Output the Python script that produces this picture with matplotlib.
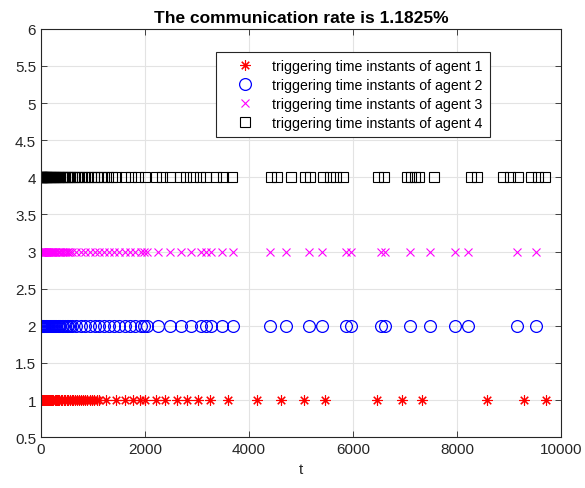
import numpy as np
import matplotlib
matplotlib.use("Agg")
import matplotlib.pyplot as plt

plt.rcParams['font.family'] = ['Liberation Sans', 'DejaVu Sans']

# triggering instants
agent1_t = [0, 4, 9, 15, 22, 30, 38, 47, 57, 68, 80, 92, 105, 119, 134, 150, 166, 183,
            201, 220, 240, 261, 283, 306, 330, 355, 381, 408, 436, 465, 495, 526, 558,
            591, 625, 660, 696, 733, 771, 810, 850, 892, 935, 980, 1026, 1075, 1125,
            1257, 1450, 1610, 1770, 1898, 1994, 2206, 2379, 2616, 2808, 3019, 3244,
            3596, 4161, 4623, 5052, 5456, 6462, 6942, 7334, 8584, 9283, 9719]
agent2_t = [0, 3, 7, 12, 18, 25, 33, 42, 52, 63, 75, 88, 102, 117, 133, 150, 168, 187,
            207, 228, 250, 273, 297, 322, 348, 375, 403, 432, 462, 493, 525, 560, 600,
            680, 765, 850, 940, 1030, 1125, 1220, 1315, 1410, 1510, 1610, 1710, 1810,
            1915, 1980, 2040, 2250, 2475, 2700, 2892, 3085, 3181, 3277, 3488, 3692,
            4412, 4719, 5154, 5411, 5873, 5969, 6546, 6610, 7090, 7488, 7969, 8212,
            9154, 9527]
agent3_t = list(agent2_t)
agent4_t = [0, 3, 7, 12, 18, 25, 33, 42, 52, 63, 75, 88, 102, 117, 133, 150, 168, 187,
            207, 228, 250, 273, 297, 322, 348, 375, 403, 432, 462, 493, 525, 560, 600,
            645, 690, 740, 790, 845, 900, 960, 1020, 1085, 1150, 1220, 1290, 1360,
            1450, 1610, 1738, 1865, 1994, 2206, 2334, 2475, 2667, 2796, 2923, 3052,
            3181, 3373, 3500, 3681, 4417, 4546, 4802, 5071, 5167, 5423, 5552, 5681,
            5808, 6481, 6590, 7038, 7123, 7186, 7269, 7552, 8277, 8385, 8885, 9013,
            9173, 9431, 9558, 9687]

labels = ['triggering time instants of agent 1', 'triggering time instants of agent 2',
          'triggering time instants of agent 3', 'triggering time instants of agent 4']
rate = 1.1825

fig = plt.figure(figsize=(5.85, 4.89), dpi=100)
ax = fig.add_axes([0.070, 0.104, 0.889, 0.835])

ax.plot(agent1_t, np.full(len(agent1_t), 1), linestyle='none', marker=(8, 2, 0),
        ms=7.5, mec='#ff0000', mew=0.8, label=labels[0])
ax.plot(agent2_t, np.full(len(agent2_t), 2), linestyle='none', marker='o',
        ms=8.5, mfc='none', mec='#0000ff', mew=0.9, label=labels[1])
ax.plot(agent3_t, np.full(len(agent3_t), 3), linestyle='none', marker='x',
        ms=5.5, mec='#ff00ff', mew=0.8, label=labels[2])
ax.plot(agent4_t, np.full(len(agent4_t), 4), linestyle='none', marker='s',
        ms=7, mfc='none', mec='k', mew=0.8, label=labels[3])

ax.set_xlim(0, 10000)
ax.set_ylim(0.5, 6)
ax.set_xticks(np.arange(0, 10001, 2000))
ax.set_yticks(np.arange(0.5, 6.01, 0.5))
ax.set_yticklabels(['0.5', '1', '1.5', '2', '2.5', '3', '3.5', '4', '4.5', '5', '5.5', '6'])
ax.grid(True, color='#e3e3e3', linewidth=0.8)
ax.set_axisbelow(True)
ax.tick_params(direction='in', top=True, right=True, labelsize=11, colors='#262626',
               length=4, width=0.6)
for s in ax.spines.values():
    s.set_color('#262626')
    s.set_linewidth(0.8)

ax.set_xlabel('t', fontsize=11, color='#262626')
ax.set_title('The communication rate is %.4f%%' % rate, fontsize=12.5, fontweight='bold', pad=5)

leg = ax.legend(loc='upper left', bbox_to_anchor=(0.336, 0.944), borderaxespad=0,
                fontsize=10.2, fancybox=False, framealpha=1, edgecolor='#262626',
                borderpad=0.5, handlelength=3.2, handletextpad=0.3, labelspacing=0.36)
leg.get_frame().set_linewidth(0.8)

fig.savefig('out.png', dpi=100)
